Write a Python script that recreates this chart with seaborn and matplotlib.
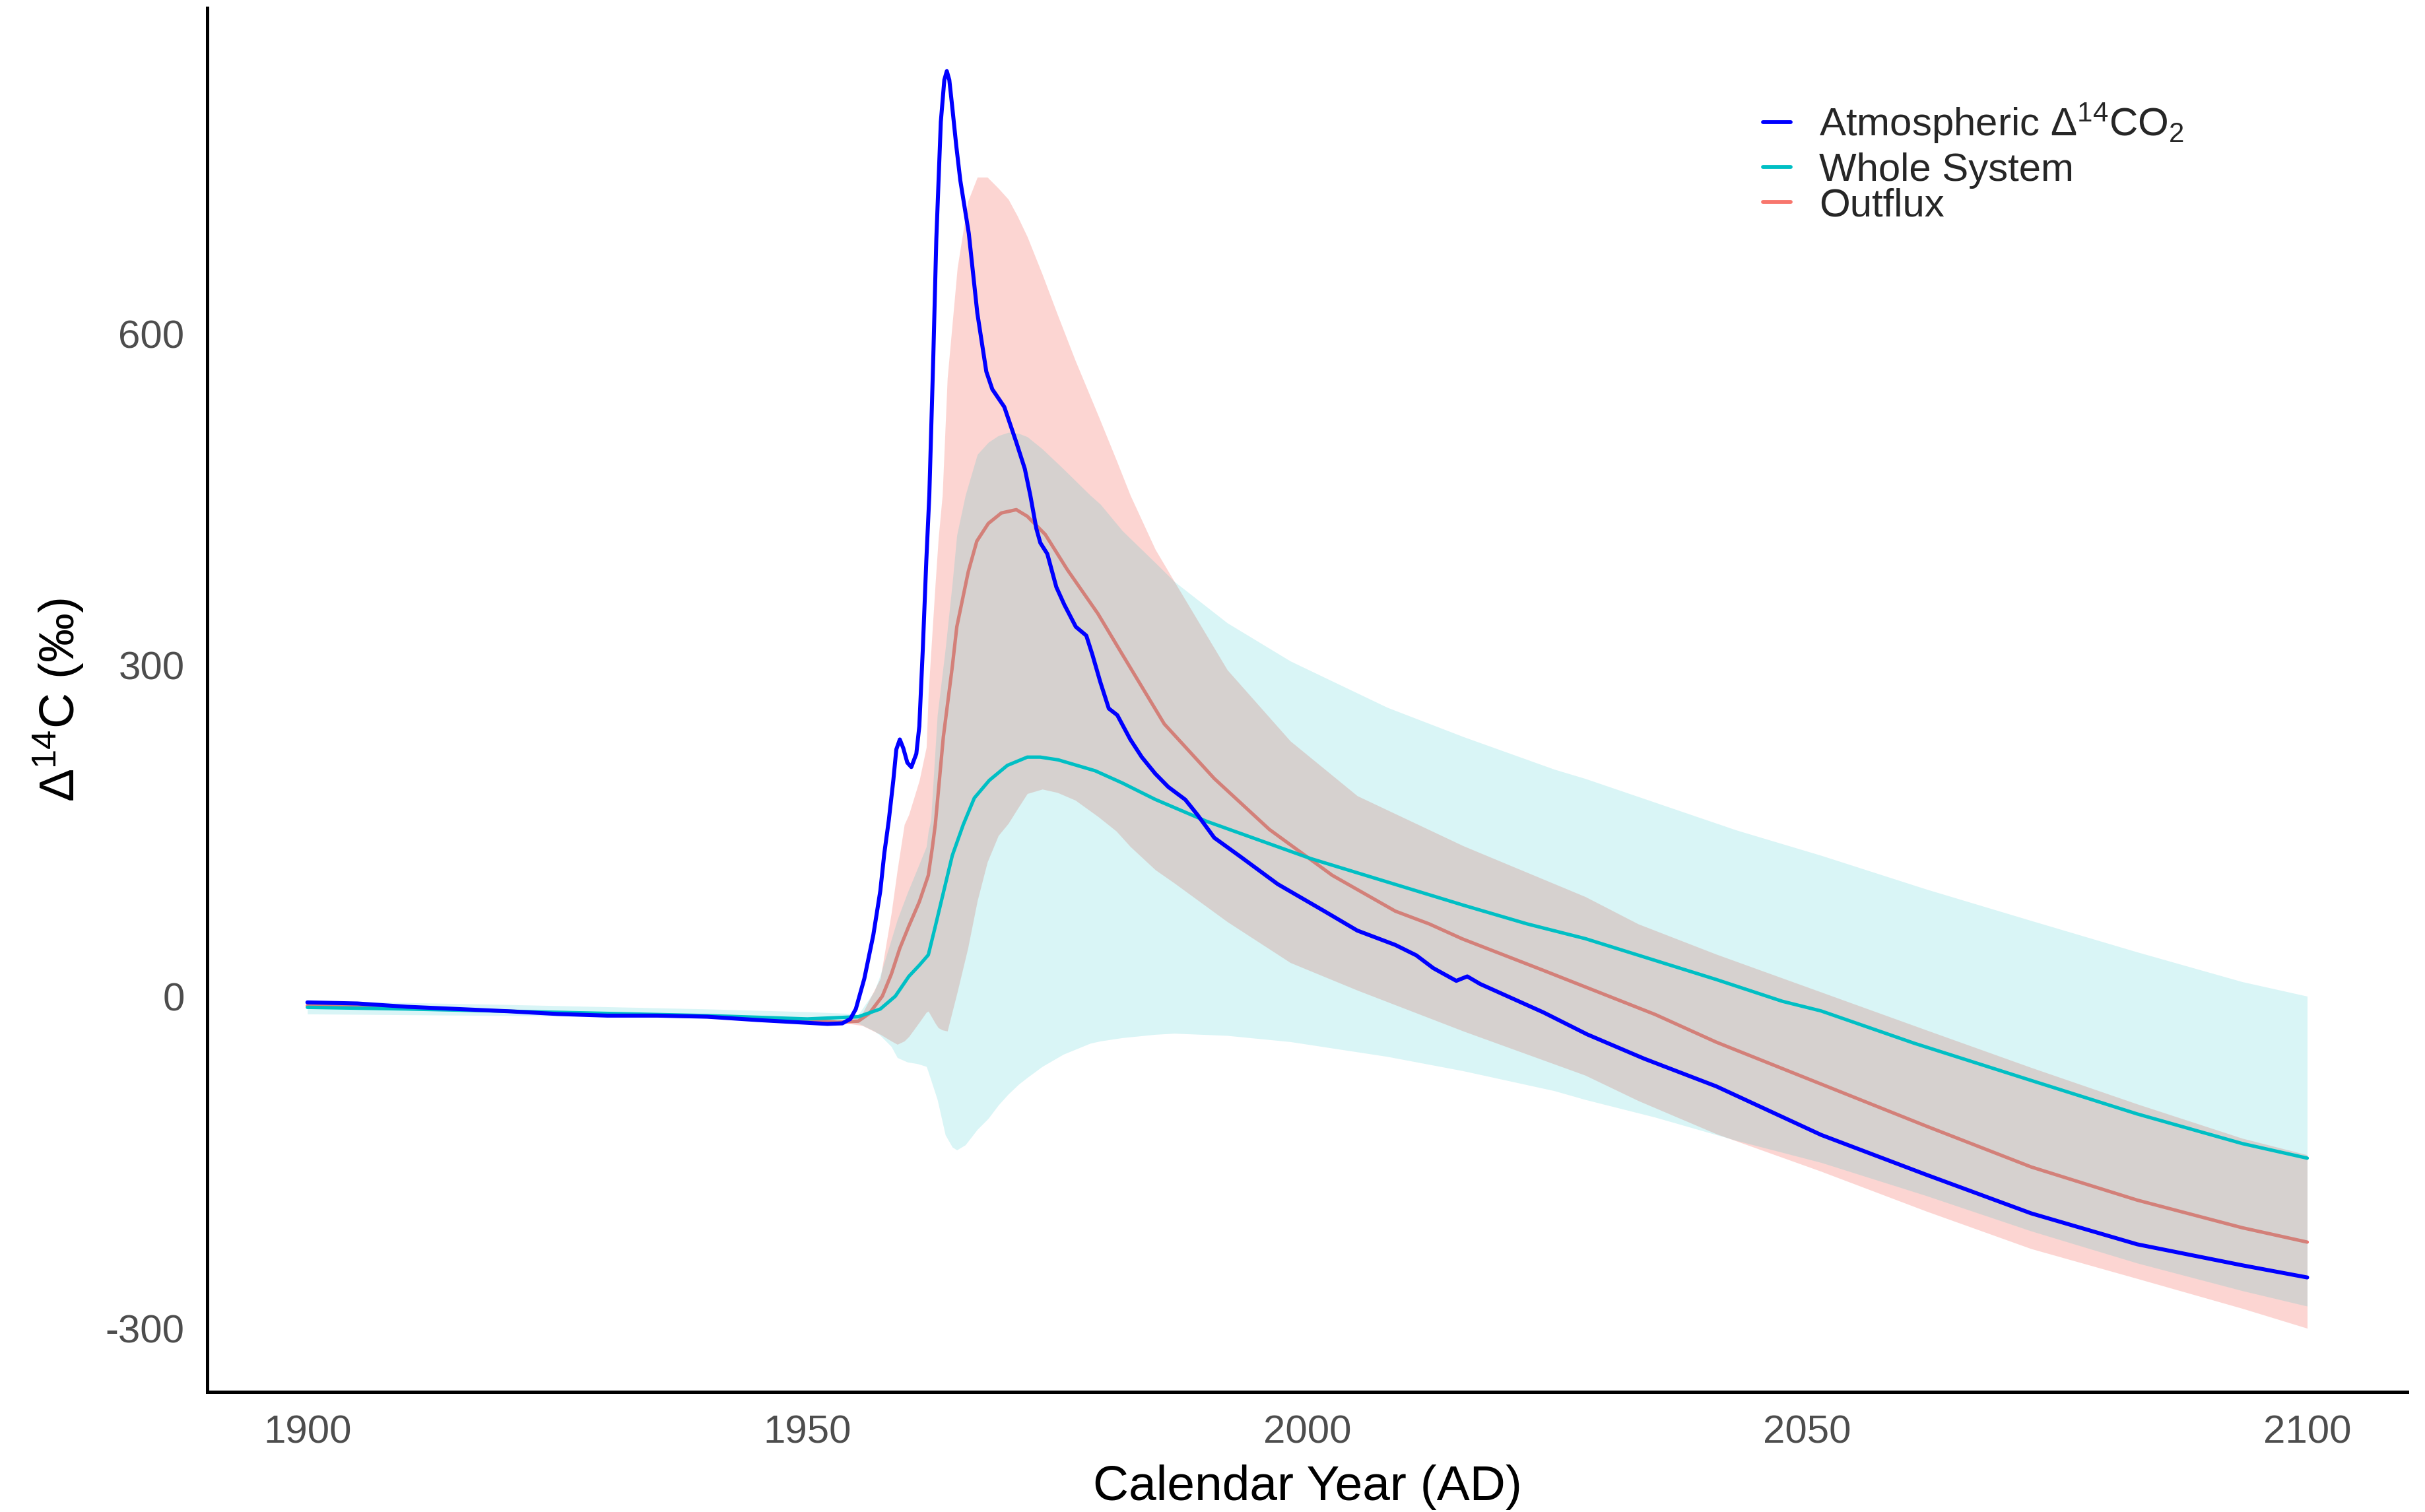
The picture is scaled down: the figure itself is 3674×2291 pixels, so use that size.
import numpy as np
import pandas as pd
import matplotlib
matplotlib.use("Agg")
import matplotlib.pyplot as plt
from matplotlib.lines import Line2D
import seaborn as sns

# ---------------- data ----------------
atm_years = [1900, 1905, 1910, 1915, 1920, 1925, 1930, 1935, 1940, 1945, 1950, 1952,
             1953.5, 1954.3, 1954.85, 1955.7, 1956.6, 1957.3, 1957.7, 1958.15, 1958.6,
             1958.9, 1959.25, 1959.6, 1960.0, 1960.4, 1960.9, 1961.2, 1961.55, 1961.9,
             1962.2, 1962.6, 1962.9, 1963.35, 1963.7, 1963.95, 1964.2, 1964.5, 1964.9,
             1965.3, 1966.15, 1967.0, 1967.9, 1968.5, 1969.1, 1969.7, 1970.3, 1970.9,
             1971.75, 1972.3, 1972.9, 1973.3, 1974.0, 1974.9, 1975.7, 1976.85, 1977.9,
             1978.5, 1979.3, 1980.15, 1981.0, 1982.3, 1983.45, 1984.8, 1986.1, 1987.8,
             1989.0, 1990.7, 1993.3, 1997.05, 2001.7, 2005.0, 2008.8, 2010.9, 2012.6,
             2014.9, 2016.0, 2017.3, 2023.6, 2028.0, 2033.7, 2040.9, 2051.4, 2061.9,
             2072.4, 2083.0, 2093.5, 2100]
atm_vals = [-5, -6, -9, -11, -13, -15.5, -17, -17, -18, -21, -23.5, -24.5,
            -24, -20, -11, 16.5, 56, 96, 130, 160, 196,
            224, 233, 225, 212, 208, 220, 245, 315, 395,
            454, 580, 686, 792, 830, 838, 830, 805, 770,
            739, 691, 619, 566, 550, 542, 534, 518, 502,
            478, 454, 424, 411, 401, 371, 355, 335, 327,
            310, 285, 261, 255, 233, 217, 202, 190, 178.5,
            165, 144, 127, 102, 77.6, 60, 47, 37.6, 26,
            14.5, 18.5, 11.6, -14, -34, -56, -81, -125, -161,
            -196, -224, -243, -254]

whole_years = [1900, 1910, 1920, 1930, 1940, 1950, 1955.1, 1957.3, 1958.8, 1960.15,
               1961.2, 1962.1, 1962.75, 1963.65, 1964.5, 1965.6, 1966.7, 1968.2, 1970.0,
               1972.0, 1973.3, 1975.1, 1978.8, 1981.5, 1984.8, 1989.9, 2000.4, 2015.6,
               2022.0, 2027.8, 2040.9, 2047.5, 2051.4, 2060.7, 2072.4, 2083.0, 2093.5, 2100]
whole_vals = [-9.5, -11, -13, -15, -17, -20, -18, -11, 0.6, 18.5,
              28.6, 38, 62, 96, 128, 156, 180, 196, 209.5,
              217, 217, 214.5, 204.6, 193.6, 178.7, 159, 125, 83,
              66, 52.7, 15.7, -4, -12.8, -42, -75.7, -106, -132.8, -146]

out_years = [1900, 1910, 1920, 1930, 1940, 1950, 1953, 1955.1, 1956.2, 1957.5, 1958.4,
             1959.25, 1960.15, 1961.2, 1962.1, 1962.5, 1962.8, 1963.6, 1964.5, 1964.95,
             1966.1, 1966.95, 1968.1, 1969.4, 1970.9, 1972.0, 1973.8, 1976.0, 1979.05,
             1981.5, 1985.7, 1990.7, 1996.2, 2002.5, 2008.8, 2012.2, 2015.5, 2023.6,
             2034.8, 2040.9, 2051.4, 2061.9, 2072.4, 2083.0, 2093.5, 2100]
out_vals = [-8, -10, -13, -16, -18, -21, -23, -22, -15, 0.6, 20.5,
            44, 64, 86, 110, 135, 156, 235, 299, 335,
            385, 412.5, 428.5, 438, 441, 435, 418.5, 386.7, 347,
            310, 247, 197.6, 151.6, 110, 77.6, 66, 52.5, 24,
            -16, -41, -79, -117, -154, -184, -209, -222]

# Outflux uncertainty ribbon
out_band_years = [1900, 1920, 1940, 1950, 1954, 1955.5, 1957.3, 1958.4, 1959.0, 1959.7,
                  1960.15, 1961.2, 1961.9, 1962.1, 1962.8, 1963.1, 1963.5, 1964.0, 1965.0,
                  1966.05, 1967.0, 1968.0, 1969.1, 1970.1, 1971.0, 1972.0, 1973.5, 1975.0,
                  1976.8, 1979.1, 1980.9, 1982.3, 1984.8, 1986.7, 1992.0, 1998.3, 2005.0,
                  2015.6, 2027.8, 2033.1, 2040.9, 2051.4, 2061.9, 2072.4, 2083.0, 2093.5, 2100]
out_upper = [-6, -11, -16, -19, -21, -15, 16.7, 76, 115, 156,
             165, 196, 226, 275, 375, 415, 454, 560, 660,
             720, 742, 742, 732, 722, 707, 688, 654, 618,
             576, 526, 486, 454, 405, 376, 296, 231.6, 182,
             136.7, 90.7, 66, 38.6, 4.3, -30, -64, -97, -128, -143]
out_lower = [-10, -14, -19, -22, -24, -26, -34, -40, -43, -40,
             -36, -23, -14, -13, -24, -28, -30, -31, 4.6,
             44, 87, 122, 146, 157, 170, 184, 188, 185,
             178, 163, 150, 136, 115, 103, 68, 31, 6,
             -31, -71, -94, -124, -158, -194, -228, -255, -282, -300]

# Whole System uncertainty ribbon
whole_band_years = [1900, 1920, 1940, 1950, 1954, 1955.1, 1956.7, 1957.3, 1958.4, 1959.0,
                    1960.0, 1961.0, 1961.9, 1962.1, 1962.35, 1963.0, 1963.8, 1964.5, 1964.95,
                    1965.8, 1967.0, 1968.1, 1969.1, 1970.1, 1971.15, 1972.0, 1973.5, 1975.6,
                    1978.3, 1979.3, 1981.5, 1984.8, 1986.7, 1992.0, 1998.3, 2008.0, 2015.6,
                    2024.7, 2027.8, 2034.8, 2042.9, 2051.4, 2061.9, 2072.4, 2083.0, 2093.5, 2100]
whole_upper = [-3.5, -7, -11, -13.5, -15, -16, 5, 20, 52, 70,
               94, 116, 136, 150, 160, 255, 315, 375, 418,
               454, 491, 502, 508, 511, 510, 507, 496, 478,
               454, 446, 422, 393, 376, 338.5, 304, 262, 235.5,
               206, 197.6, 176, 151, 128, 97.5, 69, 40.6, 13.7, 0.6]
whole_lower = [-15.5, -17, -19, -21, -23, -24, -31, -35, -45, -55,
               -59, -60.5, -63, -68, -75, -93, -125, -136, -138.6,
               -134, -120, -110, -98, -88, -79, -73, -63, -52,
               -42, -40, -37, -34, -33, -35, -40.6, -54, -67,
               -85, -93, -109, -130, -150, -180, -212, -241, -266, -280]

series_labels = [r"Atmospheric $\Delta^{14}$CO$_2$", "Whole System", "Outflux"]
series_colors = ["#0000FF", "#00BFC4", "#F8766D"]

x_ticks = [1900, 1950, 2000, 2050, 2100]
y_ticks = [-300, 0, 300, 600]

# ---------------- styling ----------------
sns.set_style("white")
plt.rcParams["font.family"] = ["Liberation Sans", "DejaVu Sans"]
plt.rcParams["mathtext.fontset"] = "custom"
plt.rcParams["mathtext.rm"] = "Liberation Sans"
plt.rcParams["mathtext.it"] = "Liberation Sans:italic"
plt.rcParams["mathtext.default"] = "regular"

W, H, DPI = 3674, 2291, 300
fig = plt.figure(figsize=(W / DPI, H / DPI), dpi=DPI)
ax = fig.add_axes([314.2 / W, 1 - 2109 / H, (3647 - 314.2) / W, (2109 - 12) / H])

# ribbons and lines (ggplot-like layering)
ax.fill_between(out_band_years, out_lower, out_upper, color="#F8766D", alpha=0.3,
                linewidth=0, zorder=1)
sns.lineplot(x=out_years, y=out_vals, ax=ax, color="#F8766D", linewidth=1.25,
             estimator=None, sort=False, zorder=2)
ax.fill_between(whole_band_years, whole_lower, whole_upper, color="#00BFC4", alpha=0.15,
                linewidth=0, zorder=3)
sns.lineplot(x=whole_years, y=whole_vals, ax=ax, color="#00BFC4", linewidth=1.25,
             estimator=None, sort=False, zorder=4)
sns.lineplot(x=atm_years, y=atm_vals, ax=ax, color="#0000FF", linewidth=1.45,
             estimator=None, sort=False, zorder=5)

ax.set_xlim(1890, 2110)
ax.set_ylim(-357.6, 895.2)
ax.set_xticks(x_ticks)
ax.set_yticks(y_ticks)
ax.set_xticklabels([str(v) for v in x_ticks])
ax.set_yticklabels([str(v) for v in y_ticks])

for s in ["top", "right"]:
    ax.spines[s].set_visible(False)
for s in ["left", "bottom"]:
    ax.spines[s].set_color("black")
    ax.spines[s].set_linewidth(1.2)
ax.tick_params(axis="both", which="major", direction="out", length=4, width=1.1,
               color="#333333", labelcolor="#4D4D4D", labelsize=14.4, pad=4.3)

ax.set_xlabel("Calendar Year (AD)", fontsize=18, color="black", labelpad=5)
ax.set_ylabel(r"$\Delta^{14}$C (‰)", fontsize=18, color="black", labelpad=7)

# legend (two blocks so the first, taller row gets the extra height as in ggplot)
handles = [Line2D([0], [0], color=c, linewidth=1.4) for c in series_colors]
common = dict(frameon=False, fontsize=14.4, handlelength=0.7, handletextpad=0.72,
              borderpad=0, borderaxespad=0)
leg1 = fig.legend(handles[:1], series_labels[:1], loc="center left",
                  bbox_to_anchor=(2671 / W, 1 - 187 / H), **common)
leg2 = fig.legend(handles[1:], series_labels[1:], loc="center left",
                  bbox_to_anchor=(2671 / W, 1 - 285 / H), labelspacing=-0.03, **common)

fig.savefig("out.png", dpi=DPI)
